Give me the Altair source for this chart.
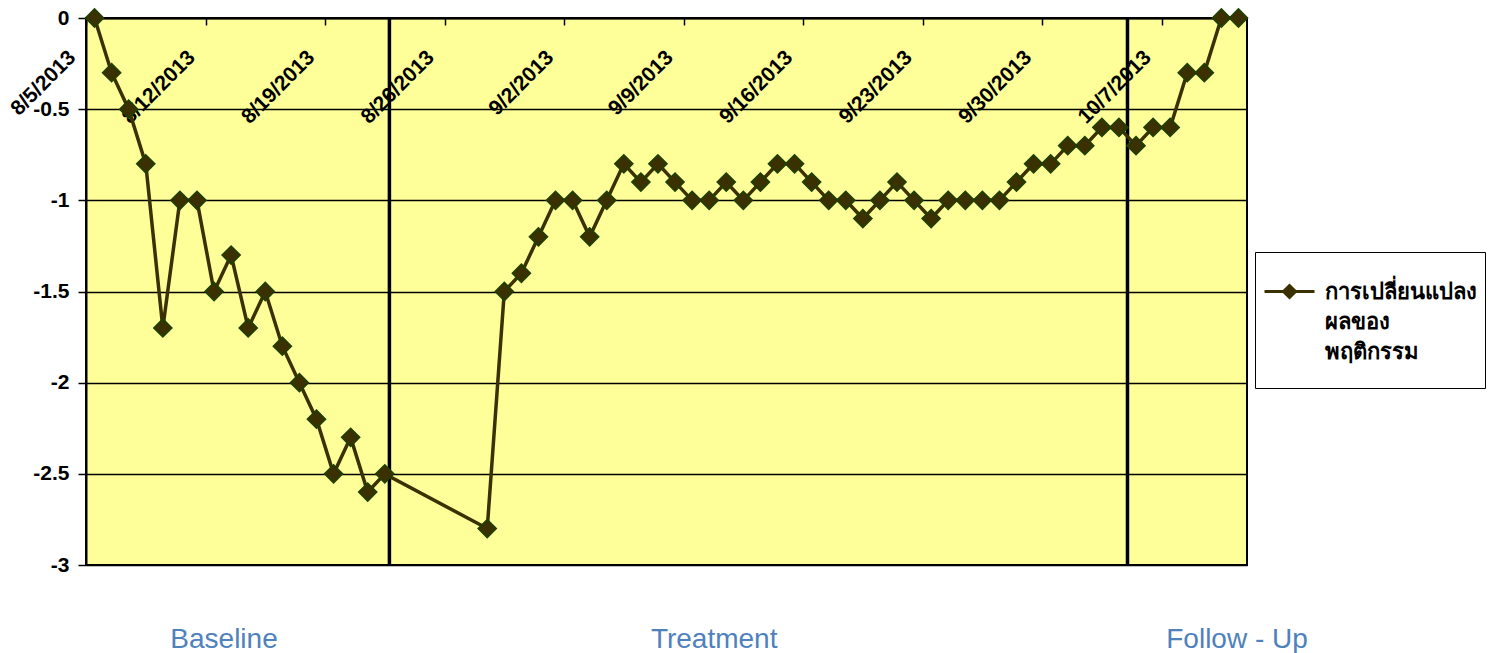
import altair as alt
import pandas as pd

# ---- data ----
baseline_dates = [d.strftime("%Y-%m-%dT12:00:00") for d in pd.date_range("2013-08-05", "2013-08-22")]
later_dates = [d.strftime("%Y-%m-%dT12:00:00") for d in pd.date_range("2013-08-28", "2013-10-11")]
dates = baseline_dates + later_dates

values = [
    0, -0.3, -0.5, -0.8, -1.7, -1.0, -1.0, -1.5, -1.3, -1.7, -1.5, -1.8, -2.0, -2.2, -2.5, -2.3, -2.6, -2.5,
    -2.8, -1.5, -1.4, -1.2, -1.0, -1.0, -1.2, -1.0, -0.8, -0.9, -0.8, -0.9, -1.0, -1.0, -0.9, -1.0,
    -0.9, -0.8, -0.8, -0.9, -1.0, -1.0, -1.1, -1.0, -0.9, -1.0, -1.1, -1.0, -1.0, -1.0, -1.0, -0.9,
    -0.8, -0.8, -0.7, -0.7, -0.6, -0.6, -0.7, -0.6, -0.6, -0.3, -0.3, 0, 0,
]

series_name = "การเปลี่ยนแปลง|ผลของ|พฤติกรรม"

phase_labels = ["Baseline", "Treatment", "Follow - Up"]
phase_label_dates = ["2013-08-13T02:00:00", "2013-09-10T19:00:00", "2013-10-11T10:00:00"]

phase_break_dates = ["2013-08-22T18:30:00", "2013-10-05T00:00:00"]

tick_dates = [(8, 5), (8, 12), (8, 19), (8, 26), (9, 2), (9, 9), (9, 16), (9, 23), (9, 30), (10, 7)]
y_ticks = [0, -0.5, -1, -1.5, -2, -2.5, -3]

# ---- tables ----
df = pd.DataFrame({"date": dates, "value": values, "series": series_name})
phases = pd.DataFrame({"label": phase_labels, "date": phase_label_dates})
breaks = pd.DataFrame({"date": phase_break_dates})

W, H = 1161, 547
LINE_COLOR = "#3A3000"

x_scale = alt.Scale(
    domain=[alt.DateTime(year=2013, month=8, date=5), alt.DateTime(year=2013, month=10, date=12)],
    nice=False,
)
x_axis = alt.Axis(
    orient="bottom",
    offset=-H,
    values=[alt.DateTime(year=2013, month=m, date=d) for m, d in tick_dates],
    format="%-m/%-d/%Y",
    labelAngle=-45,
    labelAlign="right",
    labelBaseline="middle",
    labelPadding=29,
    labelOffset=-14,
    labelFont="Liberation Sans",
    labelFontWeight="bold",
    labelFontSize=21,
    labelColor="black",
    labelOverlap=False,
    tickSize=7,
    tickColor="black",
    tickWidth=1.5,
    domainColor="black",
    domainWidth=2,
    grid=False,
    title=None,
)
y_axis = alt.Axis(
    values=y_ticks,
    labelExpr="toString(datum.value)",
    labelFont="Liberation Sans",
    labelFontWeight="bold",
    labelFontSize=21,
    labelColor="black",
    labelPadding=9,
    tickSize=8,
    tickColor="black",
    tickWidth=1.5,
    domainColor="black",
    domainWidth=2,
    gridColor="black",
    gridWidth=1.5,
    gridOpacity=1,
    title=None,
)

x_enc = alt.X("date:T", scale=x_scale, axis=x_axis)
y_enc = alt.Y("value:Q", scale=alt.Scale(domain=[-3, 0], nice=False), axis=y_axis)

line = alt.Chart(df).mark_line(strokeWidth=3.5).encode(
    x=x_enc,
    y=y_enc,
    color=alt.Color(
        "series:N",
        scale=alt.Scale(range=[LINE_COLOR]),
        legend=alt.Legend(
            title=" ",
            titleOrient="bottom",
            titleFontSize=4,
            titlePadding=13,
            orient="none",
            legendX=1169,
            legendY=234,
            strokeColor="black",
            fillColor="white",
            padding=8,
            symbolType="M-1.25,0.5L1.25,0.5M-0.3,0.5L0,0.2L0.3,0.5L0,0.8Z",
            symbolSize=1600,
            symbolOffset=5,
            symbolStrokeWidth=3,
            symbolFillColor=LINE_COLOR,
            symbolStrokeColor=LINE_COLOR,
            labelExpr="split(datum.label, '|')",
            labelFont="Liberation Sans",
            labelFontWeight="bold",
            labelFontSize=22,
            labelColor="black",
            labelBaseline="top",
            labelOffset=14,
            labelLimit=400,
        ),
    ),
)

points = alt.Chart(df).mark_point(
    shape="diamond", filled=True, size=330, fill=LINE_COLOR, stroke="#1E4000", strokeWidth=1.5, opacity=1
).encode(x=x_enc, y=y_enc)

rules = alt.Chart(breaks).mark_rule(color="black", strokeWidth=3.5).encode(x=alt.X("date:T"))

texts = alt.Chart(phases).mark_text(
    font="Liberation Sans", fontSize=28, color="#4F81BD", align="center", baseline="middle"
).encode(x=alt.X("date:T"), y=alt.value(622), text="label:N")

chart = (
    alt.layer(rules, line, points, texts)
    .properties(
        width=W,
        height=H,
        autosize=alt.AutoSizeParams(type="none"),
        padding={"left": 86, "top": 18, "right": 1493 - 86 - W, "bottom": 653 - 18 - H},
        background="white",
    )
    .configure(
        view=alt.ViewConfig(fill="#FFFF99", stroke="black", strokeWidth=2),
        style={"guide-label": {"lineHeight": 30}},
    )
)

chart.save("out.html", embed_options={"renderer": "svg", "actions": False})
